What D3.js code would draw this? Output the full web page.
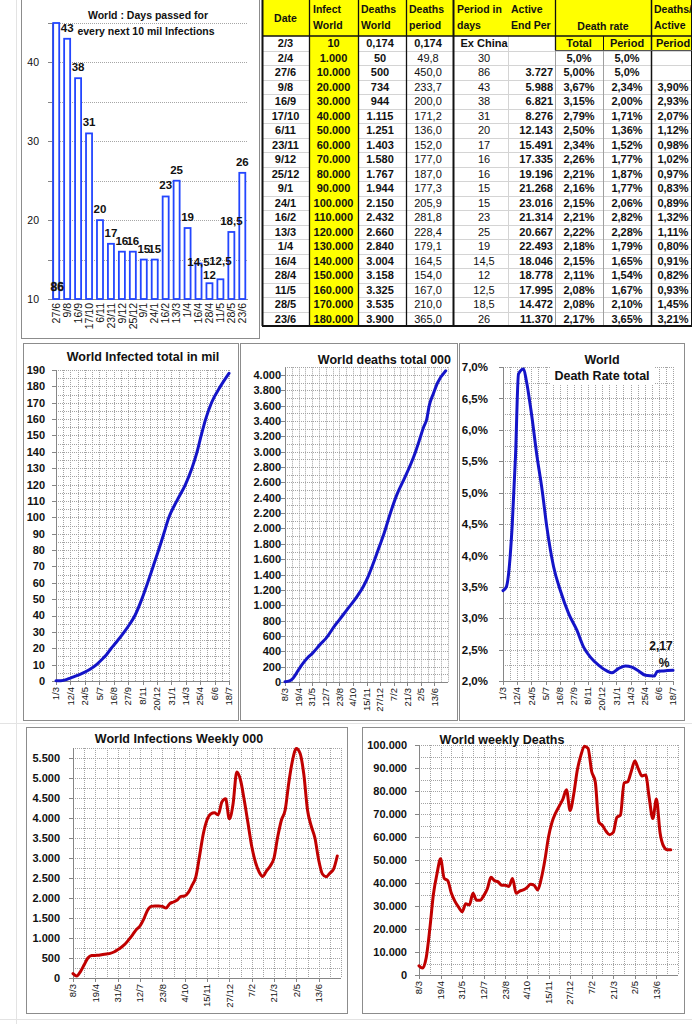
<!DOCTYPE html>
<html><head><meta charset="utf-8">
<script src="https://cdn.jsdelivr.net/npm/d3@7"></script>
<style>
body{margin:0;background:#fff}
svg{display:block}
text{font-family:"Liberation Sans",Arial,sans-serif;fill:#111}
</style></head>
<body><svg id="c" width="692" height="1024"></svg>
<script>
// ---------------- DATA ----------------
// Bar chart: days passed for every next 10 mil infections
const barDates = ["27/6","9/8","16/9","17/10","6/11","23/11","9/12","25/12","9/1","24/1","16/2","13/3","1/4","16/4","28/4","11/5","28/5","23/6"];
const barDays  = [86,43,38,31,20,17,16,16,15,15,23,25,19,14.5,12,12.5,18.5,26];
const barYTicks = [10,20,30,40];

// Table
const tHeadDate = "Date";
const tDate   = ["2/3","2/4","27/6","9/8","16/9","17/10","6/11","23/11","9/12","25/12","9/1","24/1","16/2","13/3","1/4","16/4","28/4","11/5","28/5","23/6"];
const tInfect = ["10","1.000","10.000","20.000","30.000","40.000","50.000","60.000","70.000","80.000","90.000","100.000","110.000","120.000","130.000","140.000","150.000","160.000","170.000","180.000"];
const tDeaths = ["0,174","50","500","734","944","1.115","1.251","1.403","1.580","1.767","1.944","2.150","2.432","2.660","2.840","3.004","3.158","3.325","3.535","3.900"];
const tDeathsPeriod = ["0,174","49,8","450,0","233,7","200,0","171,2","136,0","152,0","177,0","187,0","177,3","205,9","281,8","228,4","179,1","164,5","154,0","167,0","210,0","365,0"];
const tPeriodDays = ["Ex China","30","86","43","38","31","20","17","16","16","15","15","23","25","19","14,5","12","12,5","18,5","26"];
const tActive = ["","","3.727","5.988","6.821","8.276","12.143","15.491","17.335","19.196","21.268","23.016","21.314","20.667","22.493","18.046","18.778","17.995","14.472","11.370"];
const tRateTotal = ["Total","5,0%","5,00%","3,67%","3,15%","2,79%","2,50%","2,34%","2,26%","2,21%","2,16%","2,15%","2,21%","2,22%","2,18%","2,15%","2,11%","2,08%","2,08%","2,17%"];
const tRatePeriod = ["Period","5,0%","5,0%","2,34%","2,00%","1,71%","1,36%","1,52%","1,77%","1,87%","1,77%","2,06%","2,82%","2,28%","1,79%","1,65%","1,54%","1,67%","2,10%","3,65%"];
const tDeathsActive = ["Period","","","3,90%","2,93%","2,07%","1,12%","0,98%","1,02%","0,97%","0,83%","0,89%","1,32%","1,11%","0,80%","0,91%","0,82%","0,93%","1,45%","3,21%"];

// Middle charts x ticks
const totalTicks = ["2020-03-01","2020-04-12","2020-05-24","2020-07-05","2020-08-16","2020-09-27","2020-11-08","2020-12-20","2021-01-31","2021-03-14","2021-04-25","2021-06-06","2021-07-18"];
const weeklyTicks = ["2020-03-08","2020-04-19","2020-05-31","2020-07-12","2020-08-23","2020-10-04","2020-11-15","2020-12-27","2021-02-07","2021-03-21","2021-05-02","2021-06-13"];

// World infected total (mil)
const infDates = ["2020-03-01","2020-03-15","2020-04-02","2020-04-12","2020-04-26","2020-05-10","2020-05-24","2020-06-07","2020-06-27","2020-07-12","2020-07-26","2020-08-09","2020-08-23","2020-09-16","2020-10-01","2020-10-17","2020-11-06","2020-11-23","2020-12-09","2020-12-25","2021-01-09","2021-01-24","2021-02-16","2021-03-13","2021-04-01","2021-04-16","2021-04-28","2021-05-11","2021-05-28","2021-06-23","2021-07-18"];
const infTotal = [0.09,0.17,1.0,1.8,3.0,4.1,5.4,7.0,10,13,16,20,23.5,30,34.5,40,50,60,70,80,90,100,110,120,130,140,150,160,170,180,188];

// World deaths total (000)
const dthDates = ["2020-03-08","2020-03-22","2020-04-02","2020-04-19","2020-05-03","2020-05-17","2020-05-31","2020-06-27","2020-07-12","2020-08-09","2020-08-23","2020-09-16","2020-10-17","2020-11-06","2020-11-23","2020-12-09","2020-12-25","2021-01-09","2021-01-24","2021-02-16","2021-03-13","2021-04-01","2021-04-16","2021-04-28","2021-05-11","2021-05-20","2021-05-28","2021-06-10","2021-06-23","2021-07-18"];
const dthTotal = [3.8,15,50,160,245,315,370,500,565,734,810,944,1115,1251,1403,1580,1767,1944,2150,2432,2660,2840,3004,3158,3325,3420,3600,3760,3900,4055];

// World death rate total (%)
const rateDates = ["2020-03-01","2020-03-11","2020-03-28","2020-04-07","2020-04-16","2020-05-01","2020-05-09","2020-05-23","2020-06-10","2020-06-25","2020-07-09","2020-07-29","2020-08-18","2020-09-12","2020-10-06","2020-10-26","2020-11-15","2020-12-10","2021-01-03","2021-01-18","2021-02-07","2021-02-27","2021-03-18","2021-04-07","2021-04-27","2021-05-24","2021-06-01","2021-06-20","2021-07-18"];
const rateTotal = [3.44,3.5,4.45,5.57,6.89,6.97,6.79,6.31,5.57,5.04,4.45,3.82,3.44,3.07,2.81,2.54,2.38,2.25,2.16,2.13,2.2,2.24,2.22,2.16,2.09,2.08,2.15,2.16,2.17];

// Weekly series (first week 8/3/2020)
const weeklyStart = "2020-03-08";
const weeklyInfections = [110,50,160,330,500,560,565,570,585,600,615,650,705,770,850,960,1080,1210,1300,1470,1690,1790,1800,1800,1790,1750,1860,1900,1950,2040,2050,2140,2320,2530,3050,3600,3950,4100,4130,4080,4400,4480,3980,4350,5150,4950,4450,3880,3300,2900,2650,2540,2680,2800,3000,3530,3950,4200,4900,5450,5740,5620,5100,4200,3800,3500,2950,2600,2530,2620,2720,3050];
const weeklyDeaths = [4000,3000,7500,20000,35000,44000,50500,42000,41000,35500,32000,29500,27500,31000,30500,35500,32500,32500,34500,37500,42500,41000,40500,39000,39000,38500,42000,35500,36500,37000,38000,39500,39000,37000,42000,50000,60000,66500,70500,73500,76500,80500,71500,78500,89000,95500,99500,98500,88500,84000,66500,65000,62500,61000,62000,68500,69500,83500,84000,88500,93000,89500,86500,87000,77000,68000,76500,62000,56000,54500,54500];

// ---------------- DRAW ----------------
const svg = d3.select("#c");
const parse = d3.timeParse("%Y-%m-%d");
const fDM = d3.timeFormat("%-d/%-m");
const loc = d3.formatLocale({decimal:",",thousands:".",grouping:[3],currency:["",""]});
const fThou = loc.format(",d");

function panel(x0,y0,x1,y1){
  svg.append("rect").attr("x",x0+.5).attr("y",y0+.5).attr("width",x1-x0).attr("height",y1-y0)
    .attr("fill","#fff").attr("stroke","#8c8c8c").attr("stroke-width",1);
}

const bg = svg.append("g").attr("stroke","#e3e3e3");
bg.append("line").attr("x1",16.5).attr("x2",16.5).attr("y1",0).attr("y2",1024);
bg.append("line").attr("x1",0).attr("x2",692).attr("y1",1019.5).attr("y2",1019.5);
bg.append("line").attr("x1",0).attr("x2",692).attr("y1",723.5).attr("y2",723.5);

// ---------- Bar chart ----------
panel(21,-1,259,338);
{
  const g = svg.append("g");
  const x = d3.scaleBand().domain(barDates).range([51,247.5]).paddingInner(0.45).paddingOuter(0.2);
  const y = d3.scaleLinear().domain([10,45]).range([299,23]);
  const grid = g.append("g").attr("stroke","#a6a6a6").attr("stroke-dasharray","1,1");
  d3.range(15,46,5).forEach(v=>{
    const yy = Math.round(y(v))+.5;
    grid.append("line").attr("x1",52).attr("x2",248).attr("y1",yy).attr("y2",yy);
  });
  g.append("line").attr("x1",52.5).attr("x2",52.5).attr("y1",23).attr("y2",299).attr("stroke","#868686");
  g.append("line").attr("x1",52).attr("x2",248).attr("y1",299.5).attr("y2",299.5).attr("stroke","#868686");
  d3.range(10,46,5).forEach(v=>{
    const yy = Math.round(y(v))+.5;
    g.append("line").attr("x1",48).attr("x2",52).attr("y1",yy).attr("y2",yy).attr("stroke","#868686");
  });
  barYTicks.forEach(v=>{
    g.append("text").attr("x",39).attr("y",y(v)).attr("dy","0.35em").attr("text-anchor","end")
      .attr("font-size",10.5).attr("fill","#333").text(v);
  });
  barDates.forEach((d,i)=>{
    const v = barDays[i];
    const top = y(Math.min(v,45));
    g.append("rect").attr("x",x(d)).attr("y",top).attr("width",x.bandwidth()).attr("height",299-top)
      .attr("fill","#fff").attr("stroke","#2346ff").attr("stroke-width",1.8);
  });
  const nudge = {"16/4":9,"28/4":3,"11/5":-7};
  barDates.forEach((d,i)=>{
    const v = barDays[i];
    const cx = x(d)+x.bandwidth()/2;
    const lab = String(v).replace(".",",");
    if(v>45){
      g.append("text").attr("x",cx+1).attr("y",291).attr("text-anchor","middle").attr("font-size",12)
        .attr("font-weight","bold").attr("stroke","#111").attr("stroke-width",0.4).text(lab);
    } else {
      g.append("text").attr("x",cx).attr("y",y(v)-7+(nudge[d]||0)).attr("text-anchor","middle").attr("font-size",11.5)
        .attr("font-weight","bold").attr("fill","#222").text(lab);
    }
    g.append("text").attr("transform",`translate(${cx},303) rotate(-90)`).attr("text-anchor","end")
      .attr("dy","0.35em").attr("font-size",10.5).attr("fill","#222").text(d);
  });
  g.append("text").attr("x",148).attr("y",19).attr("text-anchor","middle").attr("font-size",10.5)
    .attr("font-weight","bold").text("World : Days passed for");
  g.append("text").attr("x",146).attr("y",35).attr("text-anchor","middle").attr("font-size",10.5)
    .attr("font-weight","bold").text("every next 10 mil Infections");
}

// ---------- Table ----------
{
  const g = svg.append("g");
  const rowTop = 36, rowH = 14.5, nRows = tDate.length, bottom = rowTop + nRows*rowH;
  g.append("rect").attr("x",262).attr("y",0).attr("width",430).attr("height",36).attr("fill","#ffff00");
  for(let i=1;i<nRows;i++){
    const yy = Math.round(rowTop+i*rowH)+.5;
    g.append("line").attr("x1",262).attr("x2",692).attr("y1",yy).attr("y2",yy).attr("stroke","#d4d4d4");
  }
  [508,555,603].forEach(xx=>g.append("line").attr("x1",xx+.5).attr("x2",xx+.5).attr("y1",36).attr("y2",bottom).attr("stroke",xx===508?"#d4d4d4":"#a0a0a0"));
  g.append("rect").attr("x",309).attr("y",0).attr("width",49).attr("height",bottom).attr("fill","#ffff00");
  g.append("rect").attr("x",555).attr("y",36).attr("width",137).attr("height",rowH).attr("fill","#ffff00");
  const dark = "#111";
  [[262,0,bottom,2],[309,0,bottom,1.3],[358,0,bottom,1.3],[406,0,bottom,1.3],[453,0,bottom,2],[651,0,bottom,1.5],[555,0,50.5,1.3],[603,36,50.5,1],[691,0,bottom,1]].forEach(([xx,y0,y1,w])=>{
    g.append("line").attr("x1",xx+.5).attr("x2",xx+.5).attr("y1",y0).attr("y2",y1).attr("stroke",dark).attr("stroke-width",w);
  });
  g.append("line").attr("x1",262).attr("x2",692).attr("y1",36).attr("y2",36).attr("stroke",dark).attr("stroke-width",1.5);
  g.append("line").attr("x1",555).attr("x2",692).attr("y1",50.5).attr("y2",50.5).attr("stroke","#555").attr("stroke-width",1);
  g.append("line").attr("x1",262).attr("x2",692).attr("y1",bottom).attr("y2",bottom).attr("stroke",dark).attr("stroke-width",2.2);
  const ht = (x,y,t,anchor)=>g.append("text").attr("x",x).attr("y",y).attr("text-anchor",anchor||"start")
      .attr("font-size",10.5).attr("font-weight","bold").text(t);
  ht(285.5,22,tHeadDate,"middle");
  ht(313,13,"Infect"); ht(313,29,"World");
  ht(361,13,"Deaths"); ht(361,29,"World");
  ht(409,13,"Deaths"); ht(409,29,"period");
  ht(457,13,"Period in"); ht(457,29,"days");
  ht(511,13,"Active"); ht(511,29,"End Per");
  ht(603,30,"Death rate","middle");
  ht(654,13,"Deaths/"); ht(654,29,"Active");
  const cols = [
    {tx:285.5,anchor:"middle",bold:true,data:tDate},
    {tx:333.5,anchor:"middle",bold:true,data:tInfect},
    {tx:380,anchor:"middle",bold:true,data:tDeaths},
    {tx:428,anchor:"middle",bold:false,data:tDeathsPeriod},
    {tx:484,anchor:"middle",bold:false,data:tPeriodDays},
    {tx:553,anchor:"end",bold:true,data:tActive},
    {tx:579,anchor:"middle",bold:true,data:tRateTotal},
    {tx:627,anchor:"middle",bold:true,data:tRatePeriod},
    {tx:673,anchor:"middle",bold:true,data:tDeathsActive}
  ];
  cols.forEach(c=>{
    c.data.forEach((t,i)=>{
      if(!t) return;
      g.append("text").attr("x",c.tx).attr("y",rowTop+i*rowH+11).attr("text-anchor",c.anchor)
        .attr("font-size",11).attr("font-weight",(c.bold||i===0)?"bold":"normal").text(t);
    });
  });
}

// ---------- generic line chart ----------
function lineChart(o){
  const g = svg.append("g");
  const x = d3.scaleTime().domain(o.xDomain.map(parse)).range([o.left,o.right]);
  const y = d3.scaleLinear().domain(o.yDomain).range([o.bottom,o.top]);
  const grid = g.append("g").attr("stroke","#a3a3a3").attr("stroke-dasharray","1,1").attr("stroke-width",1);
  const nMinor = Math.round((o.yDomain[1]-o.yDomain[0])/o.minorY);
  d3.range(1,nMinor+1).forEach(i=>{
    const yy = Math.round(y(o.yDomain[0]+i*o.minorY))+.5;
    grid.append("line").attr("x1",o.left).attr("x2",o.right).attr("y1",yy).attr("y2",yy);
  });
  const ticks = o.ticks.map(parse);
  const vl = [];
  ticks.forEach(t=>{vl.push(x(t)); vl.push(x(d3.timeDay.offset(t,21)));});
  vl.push(o.right);
  vl.filter(v=>v>o.left+2 && v<=o.right+0.5).forEach(v=>{
    const xx = Math.round(v)+.5;
    grid.append("line").attr("x1",xx).attr("x2",xx).attr("y1",o.top).attr("y2",o.bottom);
  });
  g.append("line").attr("x1",o.left+.5).attr("x2",o.left+.5).attr("y1",o.top).attr("y2",o.bottom).attr("stroke","#868686");
  g.append("line").attr("x1",o.left).attr("x2",o.right).attr("y1",o.bottom+.5).attr("y2",o.bottom+.5).attr("stroke","#868686");
  const nMajor = Math.round((o.labelMax-o.yDomain[0])/o.majorY);
  d3.range(0,nMajor+1).forEach(i=>{
    const v = o.yDomain[0]+i*o.majorY;
    const yy = Math.round(y(v))+.5;
    g.append("line").attr("x1",o.left-4).attr("x2",o.left).attr("y1",yy).attr("y2",yy).attr("stroke","#868686");
    g.append("text").attr("x",o.labelX).attr("y",y(v)).attr("dy","0.36em").attr("text-anchor","end")
      .attr("font-size",o.yFont||11).attr("font-weight","bold").attr("fill","#1a1a1a").text(o.yFmt(v));
  });
  ticks.forEach(t=>{
    const xx = Math.round(x(t))+.5;
    g.append("line").attr("x1",xx).attr("x2",xx).attr("y1",o.bottom).attr("y2",o.bottom+4).attr("stroke","#868686");
    g.append("text").attr("transform",`translate(${x(t)},${o.bottom+6}) rotate(-90)`).attr("text-anchor","end")
      .attr("dy","0.35em").attr("font-size",9.5).attr("fill","#222").text(fDM(t));
  });
  const line = d3.line().x(d=>x(d[0])).y(d=>y(d[1])).curve(d3.curveMonotoneX);
  g.append("path").attr("d",line(o.data)).attr("fill","none").attr("stroke",o.color)
    .attr("stroke-width",3).attr("stroke-linejoin","round").attr("stroke-linecap","round");
  return {g,x,y};
}

// ---------- Middle row ----------
panel(23,343,238,720);
panel(240,343,457,720);
panel(459,343,684,720);

lineChart({left:56,right:229,top:370,bottom:681,xDomain:["2020-03-01","2021-07-18"],yDomain:[0,190],
  minorY:5,majorY:10,labelMax:190,labelX:45,yFmt:d3.format("d"),ticks:totalTicks,
  data:infDates.map((d,i)=>[parse(d),infTotal[i]]),color:"#1414c8"});
svg.append("text").attr("x",143).attr("y",361).attr("text-anchor","middle").attr("font-size",12.5)
  .attr("font-weight","bold").text("World Infected total  in mil");

lineChart({left:285,right:448,top:367.3,bottom:682,xDomain:["2020-03-08","2021-07-25"],yDomain:[0,4100],
  minorY:100,majorY:200,labelMax:4000,labelX:281,yFmt:fThou,ticks:weeklyTicks,
  data:dthDates.map((d,i)=>[parse(d),dthTotal[i]]),color:"#1414c8"});
svg.append("text").attr("x",451).attr("y",364).attr("text-anchor","end").attr("font-size",12.5)
  .attr("font-weight","bold").text("World deaths total 000");

lineChart({left:503,right:673,top:367,bottom:681,xDomain:["2020-03-01","2021-07-18"],yDomain:[2,7],
  minorY:0.25,majorY:0.5,labelMax:7,labelX:488,yFmt:v=>v.toFixed(1).replace(".",",")+"%",ticks:totalTicks,
  data:rateDates.map((d,i)=>[parse(d),rateTotal[i]]),color:"#1414c8",yFont:11.5});
svg.append("rect").attr("x",550).attr("y",352).attr("width",104).attr("height",32).attr("fill","#fff");
svg.append("text").attr("x",602).attr("y",364).attr("text-anchor","middle").attr("font-size",12.5)
  .attr("font-weight","bold").text("World");
svg.append("text").attr("x",602).attr("y",380).attr("text-anchor","middle").attr("font-size",12.5)
  .attr("font-weight","bold").text("Death Rate total");
{
  const last = rateTotal[rateTotal.length-1];
  svg.append("text").attr("x",661).attr("y",650).attr("text-anchor","middle").attr("font-size",12)
    .attr("font-weight","bold").text(String(last).replace(".",","));
  svg.append("text").attr("x",664).attr("y",667).attr("text-anchor","middle").attr("font-size",12)
    .attr("font-weight","bold").text("%");
}

// ---------- Bottom row ----------
panel(26,727,347,1013);
panel(362,727,684,1013);
const wStart = parse(weeklyStart);
lineChart({left:73,right:341,top:748,bottom:978,xDomain:["2020-03-08","2021-07-25"],yDomain:[0,5750],
  minorY:250,majorY:500,labelMax:5500,labelX:60,yFmt:fThou,ticks:weeklyTicks,
  data:weeklyInfections.map((v,i)=>[d3.timeDay.offset(wStart,7*i),v]),color:"#c00000"});
svg.append("text").attr("x",179).attr("y",743).attr("text-anchor","middle").attr("font-size",12.5)
  .attr("font-weight","bold").text("World Infections Weekly 000");

lineChart({left:419,right:678,top:745,bottom:975,xDomain:["2020-03-08","2021-07-25"],yDomain:[0,100000],
  minorY:5000,majorY:10000,labelMax:100000,labelX:407,yFmt:fThou,ticks:weeklyTicks,
  data:weeklyDeaths.map((v,i)=>[d3.timeDay.offset(wStart,7*i),v]),color:"#c00000"});
svg.append("text").attr("x",502).attr("y",744).attr("text-anchor","middle").attr("font-size",12.5)
  .attr("font-weight","bold").text("World  weekly Deaths");
</script>
</body></html>
